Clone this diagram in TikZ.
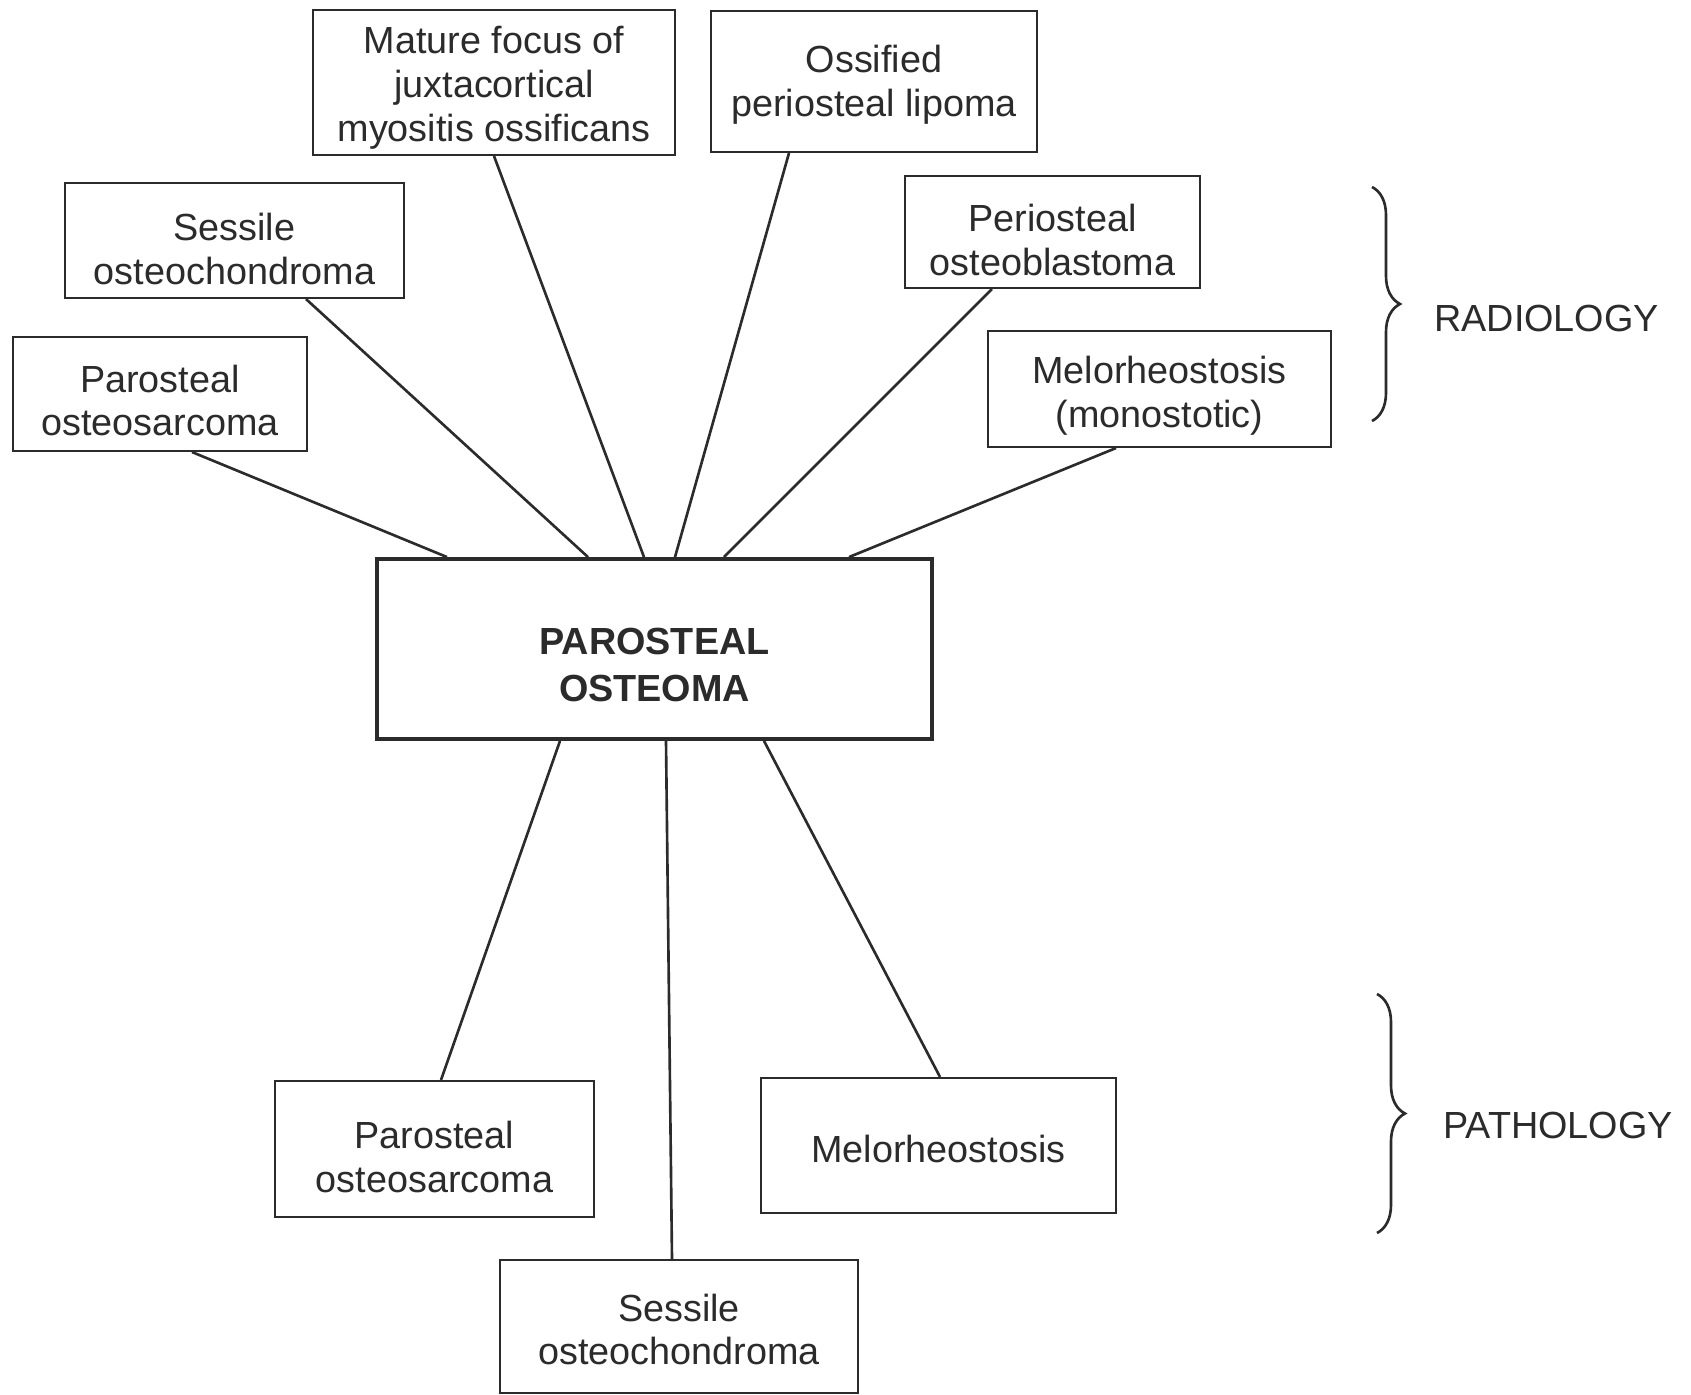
\documentclass[tikz,border=0pt]{standalone}
\usepackage{fontspec}
\setmainfont{Liberation Sans}
\usepackage{tikz}
\usetikzlibrary{calc}
\usetikzlibrary{decorations.pathreplacing}
\usepackage{xcolor}
\definecolor{ink}{HTML}{2B2B2B}
\newcommand{\toppad}[1]{\rule{0pt}{#1}}
\tikzset{every text node part/.style={align=center, font={\fontsize{21.5}{25}\selectfont}}}
\tikzstyle{block} = [draw=ink, fill=white, inner sep=0pt, line width=1.2pt, text=ink]
\tikzstyle{mainblock} = [block, line width=2.2pt, every text node part/.append style={font={\bfseries\fontsize{21.5}{26.5}\selectfont}}]
\tikzstyle{lbl} = [inner sep=0pt, text=ink]
\tikzstyle{ln} = [draw=ink, line width=1.5pt]
\tikzstyle{grp} = [draw=ink, line width=1.5pt, decorate, decoration={brace, amplitude=0.56cm}]

\begin{document}
\begin{tikzpicture}[x=0.02cm, y=-0.02cm]
  \useasboundingbox (0,0) rectangle (1691,1395);
  % centre
  \node[mainblock, minimum width=11.1cm, minimum height=3.6cm] (main) at (654.5,649) {\toppad{33pt}PAROSTEAL\\OSTEOMA};
  % radiology
  \node[block, minimum width=7.24cm, minimum height=2.9cm] (myositis) at (494,82.5) {\toppad{22pt}Mature focus of\\juxtacortical\\myositis ossificans};
  \node[block, minimum width=6.52cm, minimum height=2.82cm] (lipoma) at (874,81.5) {\toppad{19pt}Ossified\\periosteal lipoma};
  \node[block, minimum width=6.78cm, minimum height=2.3cm] (sessrad) at (234.5,240.5) {\toppad{25pt}Sessile\\osteochondroma};
  \node[block, minimum width=5.88cm, minimum height=2.28cm] (parorad) at (160,394) {\toppad{23pt}Parosteal\\osteosarcoma};
  \node[block, minimum width=5.9cm, minimum height=2.24cm] (blastoma) at (1052.5,232) {\toppad{25pt}Periosteal\\osteoblastoma};
  \node[block, minimum width=6.86cm, minimum height=2.32cm] (melorad) at (1159.5,389) {\toppad{23pt}Melorheostosis\\(monostotic)};
  % pathology
  \node[block, minimum width=6.38cm, minimum height=2.72cm] (paropath) at (434.5,1149) {\toppad{25pt}Parosteal\\osteosarcoma};
  \node[block, minimum width=7.1cm, minimum height=2.7cm] (melopath) at (938.5,1145.5) {\toppad{19pt}Melorheostosis};
  \node[block, minimum width=7.16cm, minimum height=2.66cm] (sesspath) at (679,1326.5) {\toppad{19pt}Sessile\\osteochondroma};

  \draw[ln] ($(parorad.south)+(32,0)$) -- ($(main.north)+(-207.5,0)$);
  \draw[ln] ($(sessrad.south)+(71.5,0)$) -- ($(main.north)+(-66.5,0)$);
  \draw[ln] (myositis.south) -- ($(main.north)+(-10.5,0)$);
  \draw[ln] ($(lipoma.south)+(-85,0)$) -- ($(main.north)+(20.5,0)$);
  \draw[ln] ($(blastoma.south)+(-60.5,0)$) -- ($(main.north)+(69.5,0)$);
  \draw[ln] ($(melorad.south)+(-43.5,0)$) -- ($(main.north)+(194.5,0)$);
  \draw[ln] ($(main.south)+(-94.5,0)$) -- ($(paropath.north)+(6.5,0)$);
  \draw[ln] ($(main.south)+(11.5,0)$) -- ($(sesspath.north)+(-7,0)$);
  \draw[ln] ($(main.south)+(109.5,0)$) -- ($(melopath.north)+(1.5,0)$);

  % groups
  \draw[grp] (1372,187) -- (1372,421);
  \node[lbl, anchor=west] (radlbl) at (1434,318) {RADIOLOGY};
  \draw[grp] (1377,994) -- (1377,1233);
  \node[lbl, anchor=west] (pathlbl) at (1443,1125) {PATHOLOGY};
\end{tikzpicture}
\end{document}
